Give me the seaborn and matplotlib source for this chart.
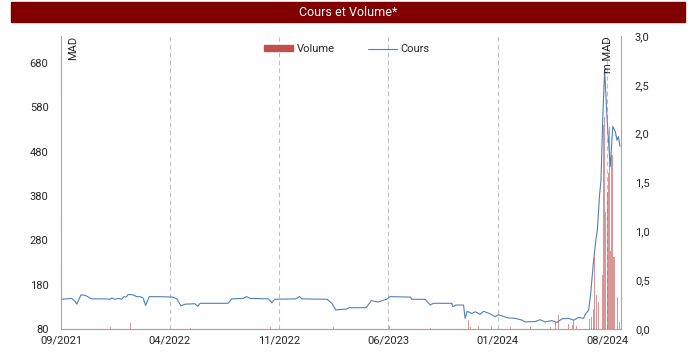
""" Cours et Volume chart. """
import pandas as pd
import seaborn as sns
import matplotlib.pyplot as plt
import matplotlib.dates as mdates
from matplotlib.patches import Rectangle
from matplotlib.lines import Line2D

# price (MAD) at its break points
price_dates = [
    "2021-09-01", "2021-09-22", "2021-09-28", "2021-10-02", "2021-10-04",
    "2021-10-10", "2021-10-18", "2021-10-31", "2021-11-26", "2021-12-06",
    "2021-12-09", "2021-12-15", "2021-12-21", "2021-12-28", "2022-01-02",
    "2022-01-06", "2022-01-10", "2022-01-19", "2022-01-27", "2022-02-02",
    "2022-02-08", "2022-02-13", "2022-02-20", "2022-03-13", "2022-04-07",
    "2022-04-15", "2022-04-23", "2022-05-01", "2022-05-20", "2022-05-26",
    "2022-05-30", "2022-07-24", "2022-07-31", "2022-08-22", "2022-08-29",
    "2022-09-05", "2022-10-10", "2022-10-14", "2022-10-17", "2022-10-23",
    "2022-12-03", "2022-12-10", "2022-12-15", "2023-02-02", "2023-02-11",
    "2023-02-19", "2023-03-12", "2023-03-17", "2023-04-19", "2023-04-29",
    "2023-05-12", "2023-05-29", "2023-06-05", "2023-07-14", "2023-07-17",
    "2023-08-12", "2023-08-22", "2023-08-28", "2023-10-03", "2023-10-05",
    "2023-10-10", "2023-10-26", "2023-10-29", "2023-11-02", "2023-11-11",
    "2023-11-18", "2023-11-27", "2023-12-04", "2023-12-13", "2023-12-27",
    "2024-01-02", "2024-01-15", "2024-01-21", "2024-02-04", "2024-02-17",
    "2024-02-23", "2024-03-14", "2024-03-23", "2024-04-02", "2024-04-15",
    "2024-04-25", "2024-05-05", "2024-05-18", "2024-05-28", "2024-06-06",
    "2024-06-16", "2024-06-19", "2024-06-26", "2024-06-30", "2024-07-05",
    "2024-07-10", "2024-07-13", "2024-07-17", "2024-07-20", "2024-07-23",
    "2024-07-27", "2024-08-01", "2024-08-07", "2024-08-12", "2024-08-17",
    "2024-08-20", "2024-08-23", "2024-08-26",
]
price_values = [
    147, 149, 143, 136, 142,
    157, 156, 148, 148, 147,
    150, 147, 149, 147, 153,
    152, 158, 157, 153, 153,
    150, 133, 153, 153, 152,
    148, 132, 136, 137, 131,
    138, 138, 148, 149, 153,
    149, 148, 144, 139, 147,
    148, 153, 148, 147, 138,
    123, 125, 128, 128, 144,
    141, 147, 153, 152, 147,
    147, 134, 138, 138, 130,
    134, 134, 104, 120, 115,
    119, 113, 120, 116, 108,
    112, 107, 105, 104, 100,
    96, 97, 101, 96, 99,
    95, 103, 104, 100, 106,
    104, 112, 123, 161, 228,
    281, 304, 379, 416, 540,
    665, 552, 446, 537, 525,
    506, 514, 492,
]

# volume (m MAD), only the days with a visible bar
volume_dates = [
    "2021-10-02", "2021-10-08", "2021-11-06", "2021-12-06", "2021-12-21",
    "2022-01-14", "2022-02-02", "2022-04-15", "2022-05-11", "2022-06-28",
    "2022-08-26", "2022-10-14", "2022-10-25", "2022-12-11", "2023-02-14",
    "2023-02-23", "2023-03-09", "2023-04-17", "2023-05-28", "2023-06-03",
    "2023-06-14", "2023-06-24", "2023-08-22", "2023-10-09", "2023-10-25",
    "2023-10-29", "2023-11-04", "2023-11-08", "2023-11-24", "2023-12-07",
    "2023-12-20", "2024-01-05", "2024-01-15", "2024-01-25", "2024-02-07",
    "2024-02-13", "2024-02-23", "2024-03-04", "2024-03-19", "2024-03-27",
    "2024-04-02", "2024-04-12", "2024-04-22", "2024-04-28", "2024-05-05",
    "2024-05-11", "2024-05-17", "2024-05-25", "2024-05-27", "2024-06-02",
    "2024-06-07", "2024-06-13", "2024-06-19", "2024-06-23", "2024-06-27",
    "2024-07-01", "2024-07-05", "2024-07-07", "2024-07-11", "2024-07-12",
    "2024-07-15", "2024-07-18", "2024-07-20", "2024-07-23", "2024-07-25",
    "2024-07-27", "2024-07-29", "2024-08-01", "2024-08-02", "2024-08-04",
    "2024-08-06", "2024-08-08", "2024-08-10", "2024-08-11", "2024-08-13",
    "2024-08-15", "2024-08-16", "2024-08-20", "2024-08-21", "2024-08-25",
    "2024-08-26",
]
volume_values = [
    0.06, 0.01, 0.01, 0.02, 0.01,
    0.06, 0.01, 0.03, 0.01, 0.01,
    0.01, 0.02, 0.02, 0.01, 0.02,
    0.02, 0.02, 0.01, 0.03, 0.03,
    0.03, 0.02, 0.01, 0.01, 0.02,
    0.03, 0.09, 0.02, 0.03, 0.02,
    0.03, 0.02, 0.03, 0.02, 0.06,
    0.07, 0.03, 0.02, 0.04, 0.05,
    0.03, 0.02, 0.07, 0.14, 0.03,
    0.04, 0.05, 0.04, 0.09, 0.03,
    0.05, 0.04, 0.06, 0.12, 0.10,
    0.12, 0.20, 0.74, 0.35, 0.94,
    0.28, 0.94, 0.50, 0.55, 2.09,
    2.17, 1.20, 2.24, 1.40, 1.60,
    2.07, 0.80, 1.78, 1.78, 0.74,
    0.74, 0.35, 0.16, 0.33, 0.07,
    0.04,
]

tick_dates = ["2021-09-01", "2022-04-01", "2022-11-01",
              "2023-06-01", "2024-01-01", "2024-08-01"]
price_ticks = [80, 180, 280, 380, 480, 580, 680]
volume_ticks = [0.0, 0.5, 1.0, 1.5, 2.0, 2.5, 3.0]

BLUE = "#4F81BD"
RED = "#C0504D"
GREY = "#A6A6A6"

sns.set_style("white")
plt.rcParams["font.family"] = ["Roboto", "DejaVu Sans"]

price_df = pd.DataFrame({"date": pd.to_datetime(price_dates),
                         "cours": price_values})
vol_df = pd.DataFrame({"date": pd.to_datetime(volume_dates),
                       "volume": volume_values})

fig = plt.figure(figsize=(6.95, 3.56), dpi=100)
ax = fig.add_axes([61 / 695, 27 / 356, 560 / 695, 293 / 356])
ax2 = ax.twinx()

# title bar
fig.patches.append(Rectangle((11 / 695, 334 / 356), 674 / 695, 20 / 356,
                             transform=fig.transFigure, color="#800000",
                             zorder=0))
fig.text(348 / 695, 344 / 356, "Cours et Volume*", color="white",
         ha="center", va="center", fontsize=9)

sns.lineplot(x="date", y="cours", data=price_df, ax=ax, color=BLUE,
             linewidth=0.8)
ax2.bar(vol_df["date"], vol_df["volume"], width=1.3, color=RED,
        linewidth=0, alpha=0.6)

ax.set_xlim(pd.Timestamp("2021-09-01"), pd.Timestamp("2024-08-28"))
ax.set_ylim(80, 741)
ax2.set_ylim(0, 3.0)

ax.set_xticks(pd.to_datetime(tick_dates))
ax.xaxis.set_major_formatter(mdates.DateFormatter("%m/%Y"))
ax.set_yticks(price_ticks)
ax2.set_yticks(volume_ticks)
ax2.set_yticklabels([f"{v:.1f}".replace(".", ",") for v in volume_ticks])

ax.set(xlabel="", ylabel="")
ax.xaxis.grid(True, linestyle=(0, (4, 3)), color="#BFBFBF", linewidth=0.8)
ax.yaxis.grid(False)
ax2.grid(False)

ax.tick_params(axis="both", length=0, labelsize=8, colors="#262626")
ax.tick_params(axis="y", pad=9)
ax.tick_params(axis="x", pad=5)
ax2.tick_params(axis="y", length=0, labelsize=8, colors="#262626", pad=10)

for a in (ax, ax2):
    a.spines["top"].set_visible(False)
    for side in ("left", "right", "bottom"):
        a.spines[side].set_color(GREY)
        a.spines[side].set_linewidth(0.8)
ax.spines["right"].set_visible(False)
ax2.spines["left"].set_visible(False)

ax.text(0.022, 1.0, "MAD", transform=ax.transAxes, rotation=90,
        ha="center", va="top", fontsize=8, color="#262626")
ax.text(0.976, 1.0, "m MAD", transform=ax.transAxes, rotation=90,
        ha="center", va="top", fontsize=8, color="#262626")

handles = [Rectangle((0, 0), 1, 1, color=RED),
           Line2D([], [], color=BLUE, linewidth=0.8)]
ax2.legend(handles, ["Volume", "Cours"], loc="center",
           bbox_to_anchor=(0.51, 0.955), ncol=2, frameon=False,
           fontsize=8, handlelength=2.6, handleheight=0.5,
           columnspacing=3.0, handletextpad=0.3)

fig.savefig("out.png", dpi=100)
